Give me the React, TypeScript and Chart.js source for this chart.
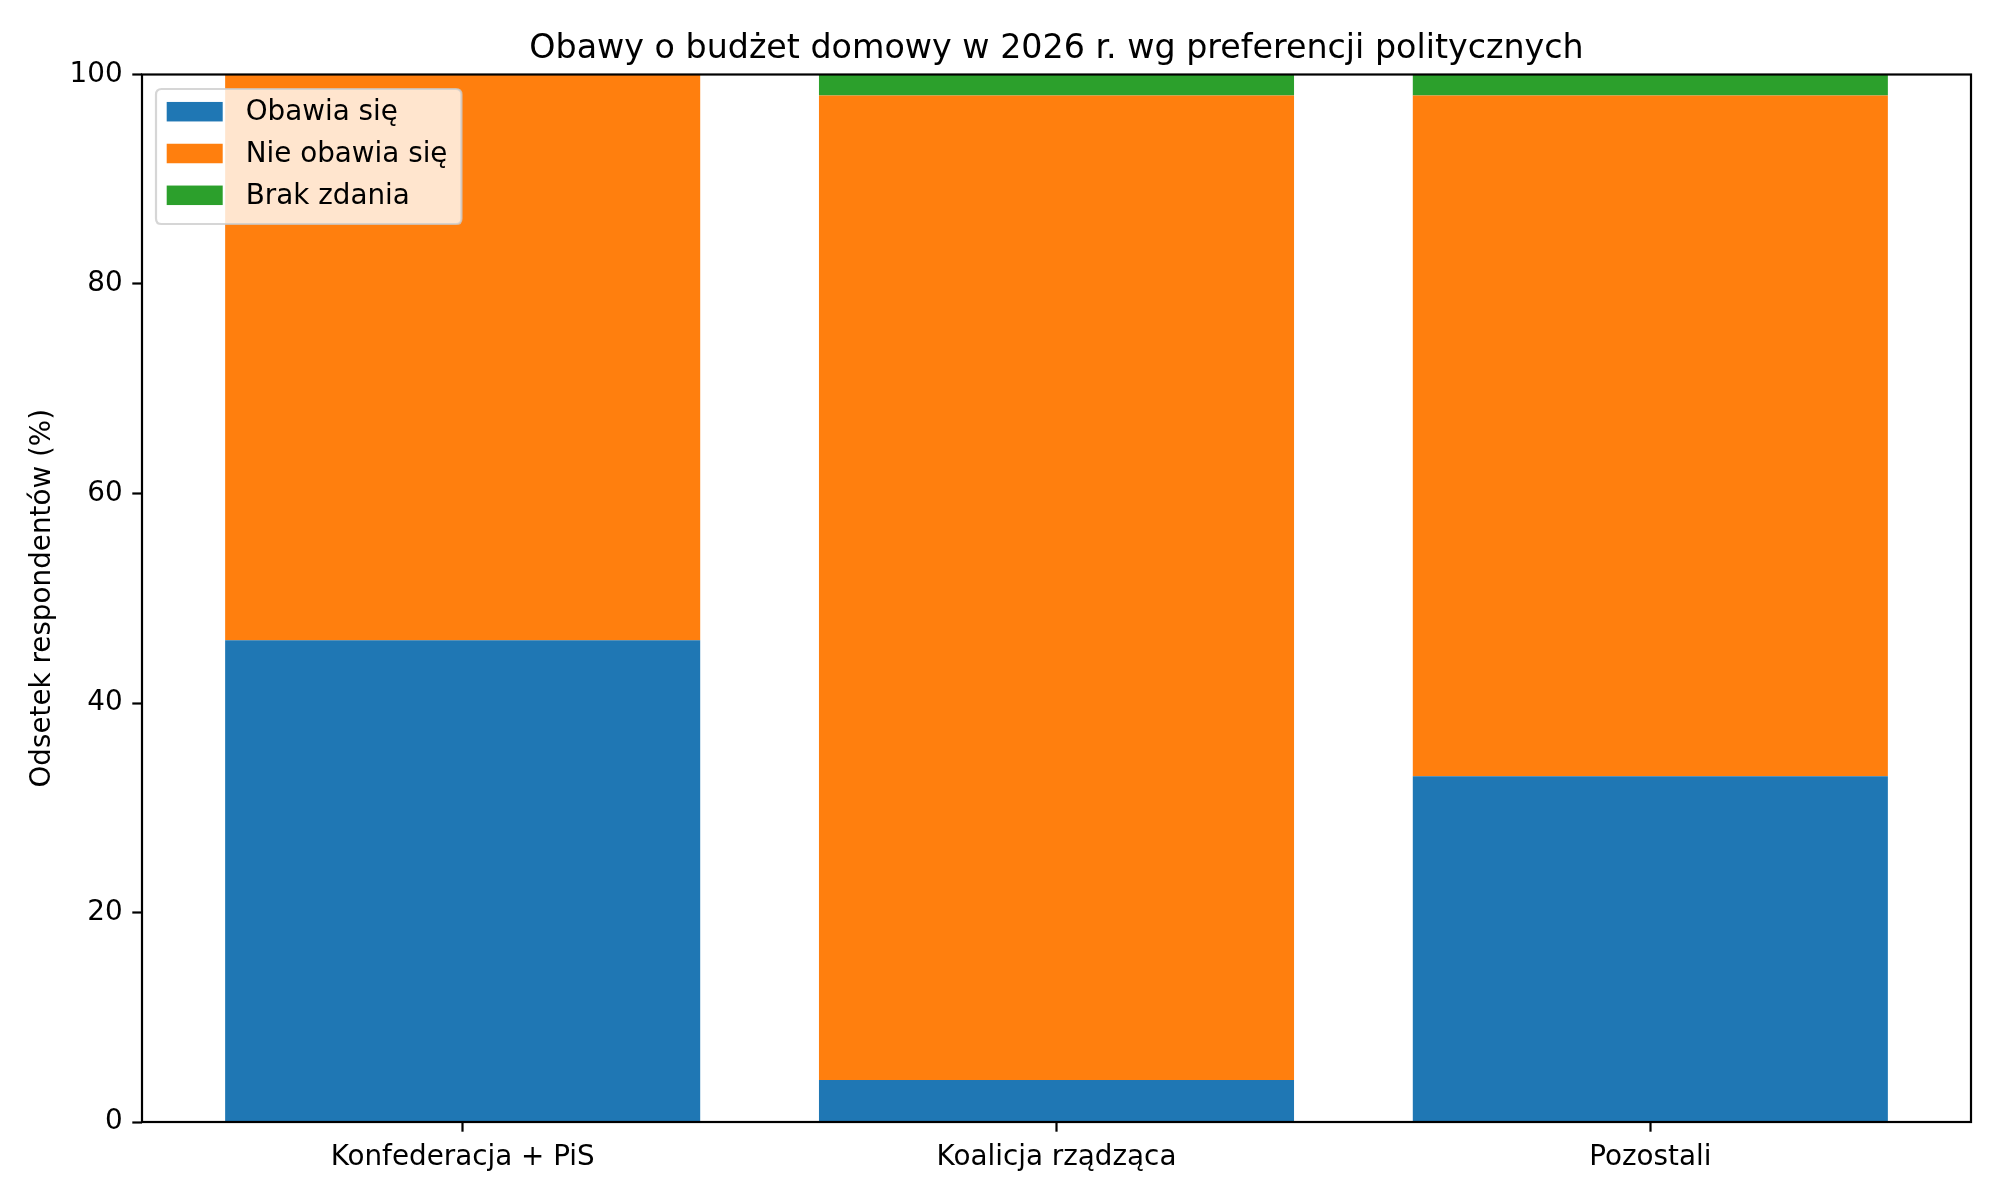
import React, { useEffect, useRef } from 'react';
import { Chart, registerables } from 'chart.js';

Chart.register(...registerables);

const titleText = 'Obawy o budżet domowy w 2026 r. wg preferencji politycznych';
const yAxisTitle = 'Odsetek respondentów (%)';
const categories = ['Konfederacja + PiS', 'Koalicja rządząca', 'Pozostali'];
const seriesNames = ['Obawia się', 'Nie obawia się', 'Brak zdania'];
const worried = [46, 4, 33];
const notWorried = [54, 94, 65];
const noOpinion = [0, 2, 2];
const seriesColors = ['#1f77b4', '#ff7f0e', '#2ca02c'];
const yTicks = [0, 20, 40, 60, 80, 100];

const FONT = 'DejaVu Sans';
const TICK_PX = 27.8;
const TITLE_PX = 33.3;

const overlayPlugin = {
  id: 'overlay',
  afterDraw(chart: any) {
    const { ctx, chartArea } = chart;
    const { left, right, top, bottom } = chartArea;
    ctx.save();
    // spines
    ctx.strokeStyle = '#000';
    ctx.lineWidth = 2.2;
    ctx.strokeRect(left, top, right - left, bottom - top);
    // title
    ctx.fillStyle = '#000';
    ctx.font = `${TITLE_PX}px "${FONT}"`;
    ctx.textAlign = 'center';
    ctx.textBaseline = 'alphabetic';
    ctx.fillText(titleText, (left + right) / 2, top - 16.7);
    // legend
    ctx.font = `${TICK_PX}px "${FONT}"`;
    const datasets = chart.data.datasets;
    const boxX = left + 14;
    const boxY = top + 14.5;
    const handleX = boxX + 10.7;
    const handleW = 56;
    const handleH = 19.5;
    const textX = boxX + 89.7;
    const rowY0 = boxY + 22.7;
    const rowGap = 41.8;
    let maxW = 0;
    datasets.forEach((d: any) => {
      maxW = Math.max(maxW, ctx.measureText(d.label).width);
    });
    const boxW = textX + maxW + 14 - boxX;
    const boxH = 135;
    const r = 5.6;
    ctx.beginPath();
    ctx.moveTo(boxX + r, boxY);
    ctx.lineTo(boxX + boxW - r, boxY);
    ctx.quadraticCurveTo(boxX + boxW, boxY, boxX + boxW, boxY + r);
    ctx.lineTo(boxX + boxW, boxY + boxH - r);
    ctx.quadraticCurveTo(boxX + boxW, boxY + boxH, boxX + boxW - r, boxY + boxH);
    ctx.lineTo(boxX + r, boxY + boxH);
    ctx.quadraticCurveTo(boxX, boxY + boxH, boxX, boxY + boxH - r);
    ctx.lineTo(boxX, boxY + r);
    ctx.quadraticCurveTo(boxX, boxY, boxX + r, boxY);
    ctx.closePath();
    ctx.fillStyle = 'rgba(255,255,255,0.8)';
    ctx.fill();
    ctx.strokeStyle = 'rgba(204,204,204,0.8)';
    ctx.lineWidth = 2.2;
    ctx.stroke();
    ctx.textAlign = 'left';
    ctx.textBaseline = 'middle';
    datasets.forEach((d: any, i: number) => {
      const cy = rowY0 + i * rowGap;
      ctx.fillStyle = d.backgroundColor;
      ctx.fillRect(handleX, cy - handleH / 2, handleW, handleH);
      ctx.fillStyle = '#000';
      ctx.fillText(d.label, textX, cy + 1);
    });
    ctx.restore();
  },
};

export default function App() {
  const canvasRef = useRef<HTMLCanvasElement | null>(null);

  useEffect(() => {
    if (!canvasRef.current) return;
    const seriesValues = [worried, notWorried, noOpinion];
    const chart = new Chart(canvasRef.current, {
      type: 'bar',
      data: {
        datasets: seriesValues.map((vals, si) => ({
          label: seriesNames[si],
          data: vals.map((v, i) => ({ x: i, y: v })),
          backgroundColor: seriesColors[si],
          borderWidth: 0,
          barPercentage: 0.8,
          categoryPercentage: 1,
        })),
      },
      options: {
        animation: false,
        responsive: false,
        devicePixelRatio: 1,
        layout: { padding: { top: 74.5, right: 29, left: 0, bottom: 0 } },
        plugins: {
          legend: { display: false },
          title: { display: false },
          tooltip: { enabled: false },
        },
        scales: {
          x: {
            type: 'linear',
            stacked: true,
            offset: false,
            min: -0.54,
            max: 2.54,
            afterBuildTicks: (scale: any) => {
              scale.ticks = categories.map((_, i) => ({ value: i }));
            },
            afterFit: (scale: any) => {
              scale.height = 78;
            },
            border: { display: false },
            grid: {
              offset: false,
              drawOnChartArea: false,
              drawTicks: true,
              tickLength: 9.7,
              tickWidth: 2.2,
              tickColor: '#000',
            },
            ticks: {
              autoSkip: false,
              maxRotation: 0,
              padding: 9.7,
              color: '#000',
              font: { family: FONT, size: TICK_PX },
              callback: (v: any) => categories[Math.round(Number(v))] ?? '',
            },
          },
          y: {
            type: 'linear',
            stacked: true,
            min: 0,
            max: 100,
            afterBuildTicks: (scale: any) => {
              scale.ticks = yTicks.map((v) => ({ value: v }));
            },
            afterFit: (scale: any) => {
              scale.width = 142;
            },
            border: { display: false },
            grid: {
              drawOnChartArea: false,
              drawTicks: true,
              tickLength: 9.7,
              tickWidth: 2.2,
              tickColor: '#000',
            },
            ticks: {
              padding: 9.7,
              color: '#000',
              font: { family: FONT, size: TICK_PX },
              callback: (v: any) => String(v),
            },
            title: {
              display: true,
              text: yAxisTitle,
              color: '#000',
              font: { family: FONT, size: TICK_PX },
              padding: { top: 26, bottom: 0 },
            },
          },
        },
      },
      plugins: [overlayPlugin],
    } as any);
    return () => chart.destroy();
  }, []);

  return (
    <div style={{ position: 'fixed', left: 0, top: 0, width: 2000, height: 1200, background: '#fff' }}>
      <canvas ref={canvasRef} width={2000} height={1200} />
    </div>
  );
}
